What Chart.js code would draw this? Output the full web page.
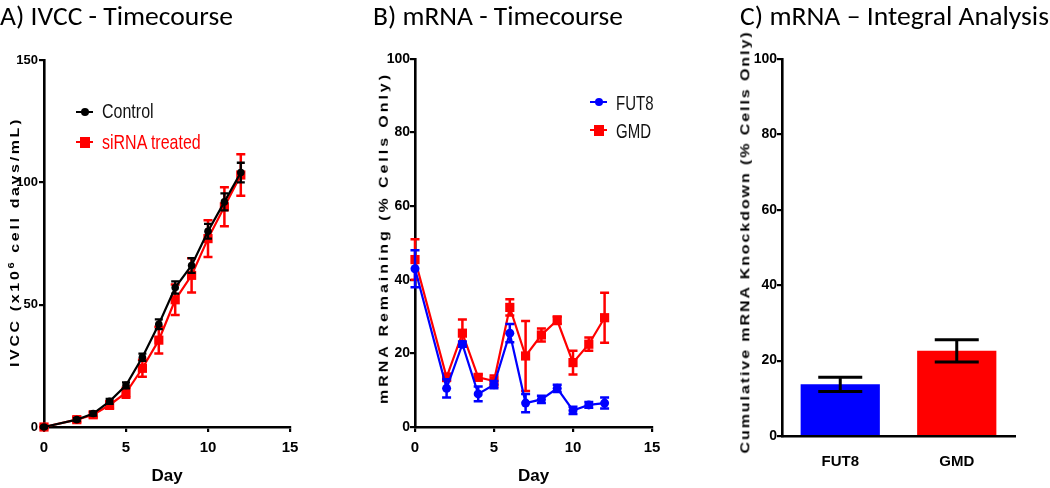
<!DOCTYPE html>
<html>
<head>
<meta charset="utf-8">
<script src="https://cdn.jsdelivr.net/npm/chart.js@4.4.1/dist/chart.umd.min.js"></script>
<style>
html,body{margin:0;padding:0;background:#fff;width:1050px;height:488px;overflow:hidden;}
#wrap{position:relative;width:1050px;height:488px;}
canvas{position:absolute;left:0;top:0;}
.ptitle{position:absolute;font-family:Carlito,Calibri,Lato,'Open Sans',sans-serif;font-size:25px;white-space:nowrap;color:#000;line-height:1;transform-origin:0 0;}
.ytitle{position:absolute;font-family:'Liberation Sans',Arial,sans-serif;font-weight:bold;font-size:16px;white-space:nowrap;line-height:1;color:#000;}
.leg{position:absolute;height:0;}
.leg .ln{position:absolute;height:2px;top:-1px;}
.leg .mk{position:absolute;}
.leg .tx{position:absolute;white-space:nowrap;font-family:'Liberation Sans Narrow','Arial Narrow','Liberation Sans',sans-serif;line-height:1;transform-origin:0 50%;}
</style>
</head>
<body>
<div id="wrap">
<canvas id="cA" width="1050" height="488"></canvas>
<canvas id="cB" width="1050" height="488"></canvas>
<canvas id="cC" width="1050" height="488"></canvas>
</div>
<script>
// ---------------- DATA ----------------
const days = [0, 2, 3, 4, 5, 6, 7, 8, 9, 10, 11, 12];

const ivccNames = ['Control', 'siRNA treated'];
const ivccControl    = [0, 3, 5.5, 10.5, 17, 28.5, 42, 57, 66, 80, 92, 104];
const ivccControlErr = [0.5, 0.6, 0.8, 1, 1.2, 1.5, 2, 2.5, 3, 3, 3.5, 4];
const ivccSirna      = [0, 3, 5, 9, 14, 24, 35.5, 52, 62, 77, 90, 103];
const ivccSirnaErr   = [0.5, 1, 1, 1.5, 2, 3.5, 5.5, 6.2, 7, 7.5, 8, 8.5];

const mrnaNames = ['FUT8', 'GMD'];
const fut8    = [43, 10.5, 22.5, 9, 11.5, 25.5, 6.5, 7.5, 10.5, 4.5, 6, 6.5];
const fut8Err = [5, 2.5, 0.7, 2, 1, 2.5, 2.5, 1, 1, 1, 0.8, 1.5];
const gmd     = [45.5, 13.5, 25.5, 13.5, 12.5, 32.5, 19.3, 25, 29, 17.5, 22.5, 29.7];
const gmdErr  = [5.5, 1, 3.7, 0.8, 1.5, 2.2, 9.5, 1.8, 1, 3.2, 1.8, 6.8];

const knockCategories = ['FUT8', 'GMD'];
const knockValues = [13.7, 22.6];
const knockErr    = [1.9, 2.95];

const ivccTicks = [0, 50, 100, 150];
const dayTicks  = [0, 5, 10, 15];
const pctTicks  = [0, 20, 40, 60, 80, 100];

const panelTitles = ['A) IVCC - Timecourse', 'B) mRNA - Timecourse', 'C) mRNA \u2013 Integral Analysis'];
const yTitleA = 'IVCC (x10<sup style="font-size:11px;vertical-align:6px">6</sup> cell days/mL)';
const yTitleB = 'mRNA Remaining (% Cells Only)';
const yTitleC = 'Cumulative mRNA Knockdown (% Cells Only)';
const xTitle = 'Day';

// ---------------- HELPERS ----------------
const NARROW = "'Liberation Sans Narrow','Arial Narrow','Liberation Sans',Arial,sans-serif";
const ARIAL = "'Liberation Sans',Arial,sans-serif";

const errorBars = {
  id: 'errorBars',
  afterDatasetDraw(chart, args) {
    const ds = chart.data.datasets[args.index];
    if (!ds.errors) return;
    const meta = args.meta;
    const ys = chart.scales.y;
    const ctx = chart.ctx;
    ctx.save();
    ctx.strokeStyle = ds.errorColor || ds.borderColor;
    ctx.lineWidth = ds.errorWidth || 2;
    ctx.lineCap = 'butt';
    meta.data.forEach((el, j) => {
      const raw = ds.data[j];
      const v = (typeof raw === 'object') ? raw.y : raw;
      const e = ds.errors[j];
      const x = el.x;
      const yT = ys.getPixelForValue(v + e);
      const yB = ys.getPixelForValue(v - e);
      const cw = ds.capHalf || 4;
      ctx.beginPath();
      ctx.moveTo(x, yT); ctx.lineTo(x, yB);
      ctx.moveTo(x - cw, yT); ctx.lineTo(x + cw, yT);
      ctx.moveTo(x - cw, yB); ctx.lineTo(x + cw, yB);
      ctx.stroke();
    });
    ctx.restore();
  }
};

function pts(xs, ys) { return xs.map((x, i) => ({x: x, y: ys[i]})); }

function yAxis(max, ticksArr, font, pad, width) {
  return {
    type: 'linear', min: 0, max: max,
    afterBuildTicks(s) { s.ticks = ticksArr.map(v => ({value: v})); },
    ticks: {color: '#000', font: font, padding: pad},
    grid: {drawOnChartArea: false, drawTicks: true, tickLength: 5, color: '#000', tickColor: '#000', tickWidth: 2.2, lineWidth: 2.2},
    border: {display: true, color: '#000', width: 2.6},
    afterFit(s) { s.width = width; }
  };
}
function xLinear(height) {
  return {
    type: 'linear', min: 0, max: 15,
    afterBuildTicks(s) { s.ticks = dayTicks.map(v => ({value: v})); },
    ticks: {color: '#000', font: {family: NARROW, size: 15, weight: 'bold'}, padding: 7},
    grid: {drawOnChartArea: false, drawTicks: true, tickLength: 5, color: '#000', tickColor: '#000', tickWidth: 2.2, lineWidth: 2.2},
    border: {display: true, color: '#000', width: 2.6},
    title: {display: true, text: xTitle, color: '#000', font: {family: NARROW, size: 17, weight: 'bold'}, padding: {top: 0, bottom: 0}},
    afterFit(s) { s.height = height; }
  };
}
function area(l, t, r, b, yw, xh) {
  return {left: l - yw, top: t, right: 1050 - r, bottom: 488 - b - xh};
}
const baseOpts = {responsive: false, animation: false, devicePixelRatio: 1,
  plugins: {legend: {display: false}, tooltip: {enabled: false}}, events: []};

// ---------------- PANEL A ----------------
new Chart(document.getElementById('cA'), {
  type: 'line',
  data: {datasets: [
    {label: ivccNames[0], data: pts(days, ivccControl), errors: ivccControlErr, borderColor: '#000', backgroundColor: '#000',
     borderWidth: 2.2, pointStyle: 'circle', pointRadius: 3.8, pointBorderWidth: 0, tension: 0, clip: false, capHalf: 4, errorWidth: 2.3},
    {label: ivccNames[1], data: pts(days, ivccSirna), errors: ivccSirnaErr, borderColor: '#ff0000', backgroundColor: '#ff0000',
     borderWidth: 2.2, pointStyle: 'rect', pointRadius: 6.5, pointBorderWidth: 0, tension: 0, clip: false, capHalf: 4.5, errorWidth: 2.5}
  ]},
  options: Object.assign({}, baseOpts, {
    layout: {padding: area(44, 60, 290, 427, 40, 60)},
    scales: {
      x: xLinear(60),
      y: yAxis(150, ivccTicks, {family: ARIAL, size: 13, weight: 'bold'}, 1, 40)
    }
  }),
  plugins: [errorBars]
});

// ---------------- PANEL B ----------------
new Chart(document.getElementById('cB'), {
  type: 'line',
  data: {datasets: [
    {label: mrnaNames[0], data: pts(days, fut8), errors: fut8Err, borderColor: '#0000ff', backgroundColor: '#0000ff',
     borderWidth: 2.2, pointStyle: 'circle', pointRadius: 4.5, pointBorderWidth: 0, tension: 0, clip: false, capHalf: 4.5, errorWidth: 2.5},
    {label: mrnaNames[1], data: pts(days, gmd), errors: gmdErr, borderColor: '#ff0000', backgroundColor: '#ff0000',
     borderWidth: 2.2, pointStyle: 'rect', pointRadius: 6.5, pointBorderWidth: 0, tension: 0, clip: false, capHalf: 4.5, errorWidth: 2.5}
  ]},
  options: Object.assign({}, baseOpts, {
    layout: {padding: area(415, 59, 652, 427, 40, 60)},
    scales: {
      x: xLinear(60),
      y: yAxis(100, pctTicks, {family: NARROW, size: 14, weight: 'bold'}, 0, 40)
    }
  }),
  plugins: [errorBars]
});

// ---------------- PANEL C ----------------
new Chart(document.getElementById('cC'), {
  type: 'bar',
  data: {labels: knockCategories, datasets: [
    {label: 'Knockdown', data: knockValues, errors: knockErr, backgroundColor: ['#0000ff', '#ff0000'], borderWidth: 0,
     barPercentage: 0.68, categoryPercentage: 1.0, errorColor: '#000', errorWidth: 3, capHalf: 22}
  ]},
  options: Object.assign({}, baseOpts, {
    layout: {padding: area(782, 59, 1015, 436, 40, 40)},
    scales: {
      x: {type: 'category', offset: true,
          ticks: {color: '#000', font: {family: NARROW, size: 15, weight: 'bold'}, padding: 9},
          grid: {display: false},
          border: {display: true, color: '#000', width: 2.6},
          afterFit(s) { s.height = 40; }},
      y: yAxis(100, pctTicks, {family: NARROW, size: 14, weight: 'bold'}, 0, 40)
    }
  }),
  plugins: [errorBars]
});

// ---------------- TEXT (HTML) ----------------
const wrap = document.getElementById('wrap');
function panelTitle(text, left, top, targetW) {
  const d = document.createElement('div');
  d.className = 'ptitle';
  d.textContent = text;
  d.style.left = left + 'px'; d.style.top = top + 'px';
  wrap.appendChild(d);
  const w = d.getBoundingClientRect().width;
  d.style.transform = 'scale(' + (targetW / w) + ',1.08)';
}
panelTitle(panelTitles[0], 0, 2, 233);
panelTitle(panelTitles[1], 373, 2, 250);
panelTitle(panelTitles[2], 740, 2, 309);

function yTitle(html, cx, cy, len) {
  const d = document.createElement('div');
  d.className = 'ytitle';
  d.innerHTML = html;
  wrap.appendChild(d);
  const n = d.textContent.length;
  const w0 = d.getBoundingClientRect().width;
  const ls = Math.max(0, (len - w0) / n);
  d.style.letterSpacing = ls + 'px';
  const w = d.getBoundingClientRect().width;
  const h = d.getBoundingClientRect().height;
  d.style.left = (cx - w / 2 + ls / 2) + 'px';
  d.style.top = (cy - h / 2) + 'px';
  d.style.transform = 'rotate(-90deg) scaleY(0.8)';
  d.style.transformOrigin = '50% 50%';
}
yTitle(yTitleA, 13, 242, 250);
yTitle(yTitleB, 383, 238, 332);
yTitle(yTitleC, 745, 242, 423);

function legendItem(x, y, color, shape, text, textColor, fs, sy) {
  const d = document.createElement('div');
  d.className = 'leg';
  d.style.left = x + 'px'; d.style.top = y + 'px';
  const ln = document.createElement('div');
  ln.className = 'ln'; ln.style.left = '0px'; ln.style.width = '17px'; ln.style.background = color;
  const mk = document.createElement('div');
  mk.className = 'mk'; mk.style.background = color;
  if (shape === 'circle') { mk.style.width = '8px'; mk.style.height = '8px'; mk.style.borderRadius = '50%'; mk.style.left = '4.5px'; mk.style.top = '-4px'; }
  else { mk.style.width = '10px'; mk.style.height = '11px'; mk.style.left = '3.5px'; mk.style.top = '-5.5px'; }
  const tx = document.createElement('div');
  tx.className = 'tx'; tx.textContent = text; tx.style.color = textColor;
  tx.style.fontSize = fs + 'px'; tx.style.left = '26px'; tx.style.top = (-fs / 2) + 'px'; tx.style.height = fs + 'px';
  tx.style.transform = 'scaleY(' + sy + ')';
  d.appendChild(ln); d.appendChild(mk); d.appendChild(tx);
  wrap.appendChild(d);
}
legendItem(76, 112, '#000', 'circle', ivccNames[0], '#111', 16, 1.3);
legendItem(76, 142, '#ff0000', 'rect', ivccNames[1], '#ff0000', 16, 1.3);
legendItem(590, 102, '#0000ff', 'circle', mrnaNames[0], '#111', 15, 1.35);
legendItem(590, 130, '#ff0000', 'rect', mrnaNames[1], '#111', 15, 1.35);
</script>
</body>
</html>
